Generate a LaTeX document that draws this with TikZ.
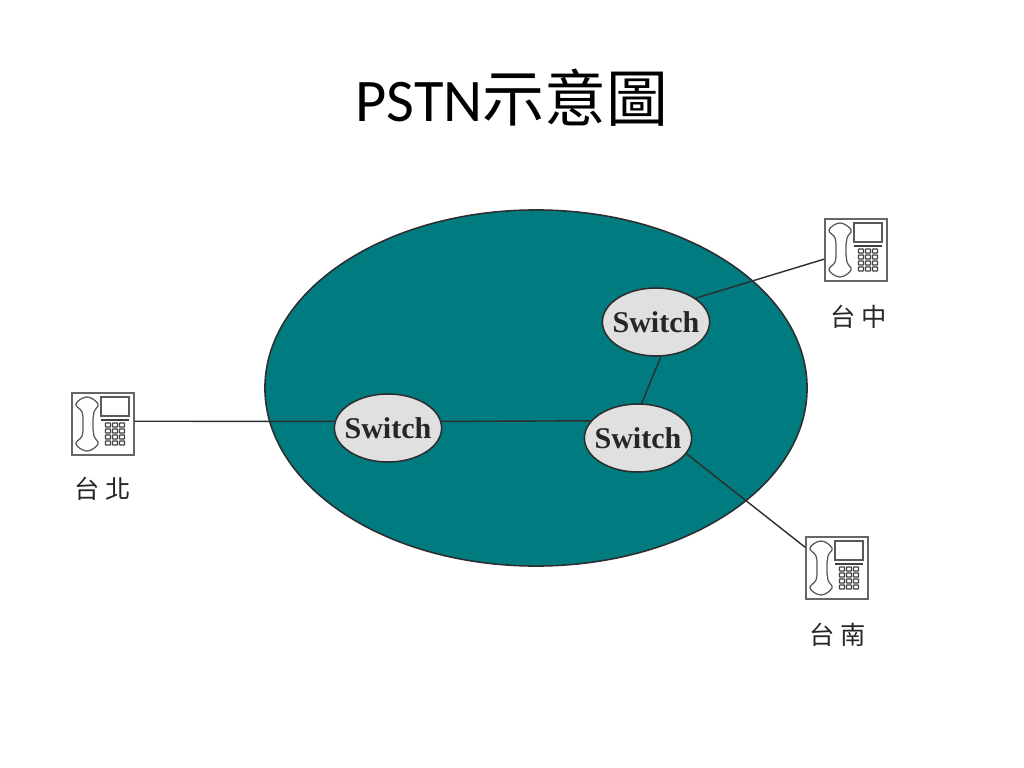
\documentclass[tikz,border=0pt]{standalone}
\usepackage{fontspec}
\usetikzlibrary{shapes.geometric}
\setmainfont{Carlito}
\newfontfamily\cjk{Noto Sans CJK TC}
\newfontfamily\cjklabel[LetterSpace=22]{Noto Sans CJK TC}
\newfontfamily\switchfont{Liberation Serif}
\definecolor{cloudteal}{RGB}{0,124,128}
\definecolor{switchgray}{RGB}{224,224,224}
\definecolor{linegray}{RGB}{45,45,45}
\def\drawlink{\draw[color=linegray, line width=1pt]}
\def\switchnode{\node[ellipse,draw=linegray,fill=switchgray,line width=1.1pt,inner xsep=-0.15cm,inner ysep=0,minimum width=2.68cm,minimum height=1.7cm,font=\switchfont\bfseries\fontsize{21.4}{24}\selectfont,text=black!85]}
\def\phonenode{\node[rectangle,draw=black!60,fill=white,line width=1.2pt,inner sep=0,minimum size=1.54cm]}
\def\placelabel{\node[font=\cjklabel\fontsize{18}{20}\selectfont,text=black!85]}
\tikzset{
  handset/.pic={
    \draw[black!65, line width=0.9pt] plot[smooth cycle, tension=0.7] coordinates {(-16,-27) (-5,-20) (-9,-12) (-10,0) (-9,12) (-5,20) (-16,27) (-27,20) (-21,12) (-20,0) (-21,-12) (-27,-20)};
    \draw[black!65, line width=0.9pt] (-2,-27) rectangle (26,-8);
    \draw[black!75, line width=1.6pt] (-2,-4) -- (26,-4);
    \foreach \col in {0,1,2}
      \foreach \row in {0,1,2,3}
        \draw[black!75, line width=0.9pt, rounded corners=0.3pt] (2.5+7*\col,-1+6*\row) rectangle ++(5,4);
  }
}
\begin{document}
\begin{tikzpicture}[x=0.025cm,y=-0.025cm]
\useasboundingbox (0,0) rectangle (1024,768);
\node[font=\fontsize{43}{50}\selectfont] (title) at (512,98) {PSTN{\cjk\fontsize{44}{50}\selectfont 示意圖}};
\node[ellipse,draw=linegray,fill=cloudteal,line width=1.1pt,inner sep=0,minimum width=13.55cm,minimum height=8.9cm] (cloud) at (536,388) {};
\switchnode (swa) at (388,428) {Switch};
\switchnode (swb) at (638,438) {Switch};
\switchnode (swc) at (656,322) {Switch};
\phonenode (taipei) at (103,424) {};
\phonenode (taichung) at (856,250) {};
\phonenode (tainan) at (837,568) {};
\pic at (taipei) {handset};
\pic at (taichung) {handset};
\pic at (tainan) {handset};
\placelabel (lbla) at (103,489) {台北};
\placelabel (lblb) at (859,317) {台中};
\placelabel (lblc) at (838,635) {台南};
\drawlink (taipei.5.5) -- (swa.173);
\drawlink (swa.7.5) -- (swb.160);
\drawlink (swb.84) -- (swc.-82);
\drawlink (swc.31) -- (taichung.196);
\drawlink (swb.-18) -- (tainan.147);
\end{tikzpicture}
\end{document}
